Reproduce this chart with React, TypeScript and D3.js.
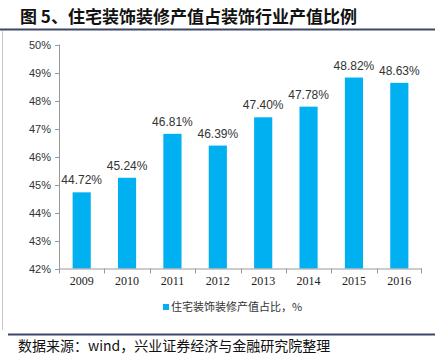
import React from "react";
import * as d3 from "d3";

const years = ["2009", "2010", "2011", "2012", "2013", "2014", "2015", "2016"];
const shares = [44.72, 45.24, 46.81, 46.39, 47.4, 47.78, 48.82, 48.63];
const yTicks = [42, 43, 44, 45, 46, 47, 48, 49, 50];
const title = "图 5、住宅装饰装修产值占装饰行业产值比例";
const legendLabel = "住宅装饰装修产值占比，%";
const source = "数据来源：wind，兴业证券经济与金融研究院整理";

export default function App() {
  const W = 435, H = 355;
  const left = 59, right = 422, top = 44.5, bottom = 268.5;
  const x = d3.scaleBand<string>().domain(years).range([left, right]).paddingInner(0.6).paddingOuter(0.3);
  const xb = d3.scaleBand<string>().domain(years).range([left, right]);
  const y = d3.scaleLinear().domain([42, 50]).range([bottom, top]);
  const axisColor = "#999";
  const sans = "'Liberation Sans', Arial, sans-serif";
  const serif = "'Liberation Serif', 'Times New Roman', serif";
  const cjk = "'Noto Sans CJK SC', sans-serif";
  return (
    <svg width={W} height={H} style={{ position: "absolute", left: 0, top: 0, background: "#fff" }}>
      <text x={20} y={23} fontFamily={cjk} fontWeight="bold" fontSize={17} fill="#111">{title}</text>
      <line x1={0} x2={W} y1={29.5} y2={29.5} stroke="#3d4766" strokeWidth={2} />
      <line x1={2.5} x2={2.5} y1={31} y2={330} stroke="#c8c8c8" strokeWidth={1} />
      {/* y axis */}
      <line x1={left + 0.5} x2={left + 0.5} y1={top} y2={bottom} stroke={axisColor} />
      {yTicks.map((t) => (
        <g key={t}>
          <line x1={left - 4} x2={left} y1={Math.round(y(t)) + 0.5} y2={Math.round(y(t)) + 0.5} stroke={axisColor} />
          <text x={left - 8} y={y(t) + 4} textAnchor="end" fontFamily={sans} fontSize={11} fill="#333">{t}%</text>
        </g>
      ))}
      {/* bars */}
      {years.map((yr, i) => (
        <g key={yr}>
          <rect x={x(yr)} y={y(shares[i])} width={x.bandwidth()} height={bottom - y(shares[i])} fill="#00b0f0" />
          <text x={(x(yr) as number) + x.bandwidth() / 2} y={y(shares[i]) - 8} textAnchor="middle" fontFamily={sans} fontSize={12} fill="#333">{shares[i].toFixed(2)}%</text>
        </g>
      ))}
      {/* x axis */}
      <line x1={left} x2={right} y1={bottom + 0.5} y2={bottom + 0.5} stroke={axisColor} />
      {years.map((yr) => (
        <line key={"t" + yr} x1={Math.round(xb(yr) as number) + 0.5} x2={Math.round(xb(yr) as number) + 0.5} y1={bottom} y2={bottom + 5} stroke={axisColor} />
      ))}
      <line x1={right - 0.5} x2={right - 0.5} y1={bottom} y2={bottom + 5} stroke={axisColor} />
      {years.map((yr) => (
        <text key={"l" + yr} x={(xb(yr) as number) + xb.bandwidth() / 2} y={bottom + 16} textAnchor="middle" fontFamily={serif} fontSize={12} fill="#222">{yr}</text>
      ))}
      {/* legend */}
      <rect x={163} y={304} width={6} height={6} fill="#00b0f0" />
      <text x={171} y={310.5} fontFamily={cjk} fontSize={11} fill="#333">{legendLabel}</text>
      <line x1={8} x2={W} y1={334.5} y2={334.5} stroke="#3d4766" strokeWidth={2} />
      <text x={18} y={351} fontFamily={cjk} fontSize={14} fill="#111">{source}</text>
    </svg>
  );
}
